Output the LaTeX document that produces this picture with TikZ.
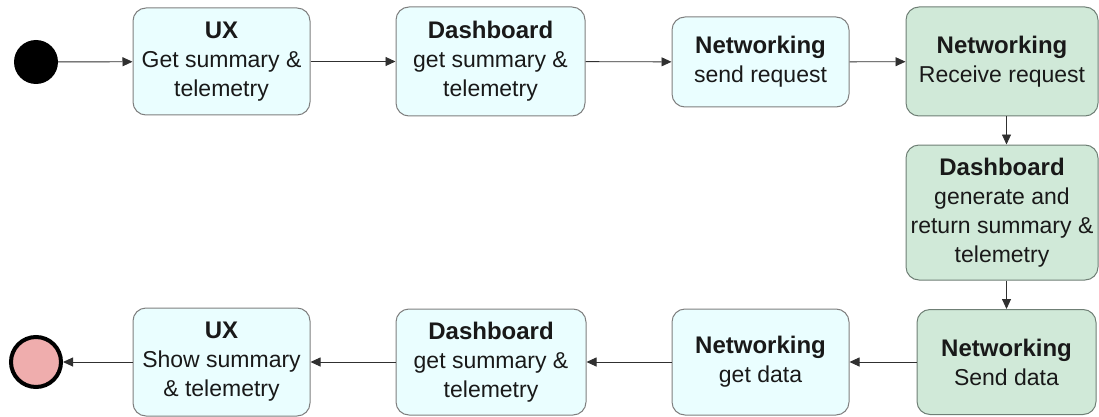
\documentclass[tikz,border=0pt]{standalone}
\usepackage{fontspec}
\setmainfont{Liberation Sans}
\usetikzlibrary{arrows.meta}
\definecolor{cyanfill}{HTML}{EAFEFF}
\definecolor{greenfill}{HTML}{D0E9D8}
\definecolor{boxline}{HTML}{7F7F7F}
\definecolor{greenline}{HTML}{6F7F75}
\definecolor{endfill}{HTML}{EFADAD}
\definecolor{arrowline}{HTML}{303030}
\newcommand{\hd}[1]{{\fontsize{24}{29}\selectfont\bfseries #1}}
\tikzset{
  stepbox/.style={draw=boxline, line width=1pt, rounded corners=13pt, align=center,
    inner sep=1pt, font=\fontsize{23}{29}\selectfont, text=black!90},
  cyanbox/.style={stepbox, fill=cyanfill},
  greenbox/.style={stepbox, fill=greenfill, draw=greenline},
  flow/.style={draw=arrowline, line width=0.9pt, -{Triangle[length=10pt,width=9pt]}}
}
\begin{document}
\begin{tikzpicture}[x=1pt,y=-1pt]
\useasboundingbox (0,0) rectangle (1099,417);
% start / end
\node[circle, fill=black, minimum size=44pt, inner sep=0pt] (start) at (36,62) {};
\node[circle, fill=endfill, draw=black, line width=4pt, minimum size=50pt, inner sep=0pt] (finish) at (36,362) {};
% top row
\node[cyanbox, minimum width=177pt, minimum height=107pt] (ux1) at (221.5,61.5)
  {\hd{UX}\\Get summary \&\\telemetry};
\node[cyanbox, minimum width=189pt, minimum height=109pt] (dash1) at (490.5,61.5)
  {\hd{Dashboard}\\get summary \&\\telemetry};
\node[cyanbox, minimum width=177pt, minimum height=90pt] (net1) at (760.5,62)
  {\hd{Networking}\\send request};
\node[greenbox, minimum width=192pt, minimum height=109pt] (netR) at (1002,61.5)
  {\hd{Networking}\\Receive request};
% right column
\node[greenbox, minimum width=192pt, minimum height=135pt] (dashG) at (1002,212.5)
  {\hd{Dashboard}\\generate and\\return summary \&\\telemetry};
\node[greenbox, minimum width=179pt, minimum height=105pt] (netS) at (1006.5,362)
  {\hd{Networking}\\Send data};
% bottom row
\node[cyanbox, minimum width=177pt, minimum height=106pt] (netG) at (760.5,362)
  {\hd{Networking}\\get data};
\node[cyanbox, minimum width=190pt, minimum height=106pt] (dash2) at (491,362)
  {\hd{Dashboard}\\get summary \&\\telemetry};
\node[cyanbox, minimum width=177pt, minimum height=108pt] (ux2) at (221.5,362)
  {\hd{UX}\\Show summary\\\& telemetry};
% connectors
\draw[flow] (start) -- (ux1);
\draw[flow] (ux1) -- (dash1);
\draw[flow] (dash1) -- (net1);
\draw[flow] (net1) -- (netR);
\draw[flow] (netR.south -| netS.center) -- (dashG.north -| netS.center);
\draw[flow] (dashG.south -| netS.center) -- (netS.north -| netS.center);
\draw[flow] (netS) -- (netG);
\draw[flow] (netG) -- (dash2);
\draw[flow] (dash2) -- (ux2);
\draw[flow] (ux2) -- (finish);
\end{tikzpicture}
\end{document}
